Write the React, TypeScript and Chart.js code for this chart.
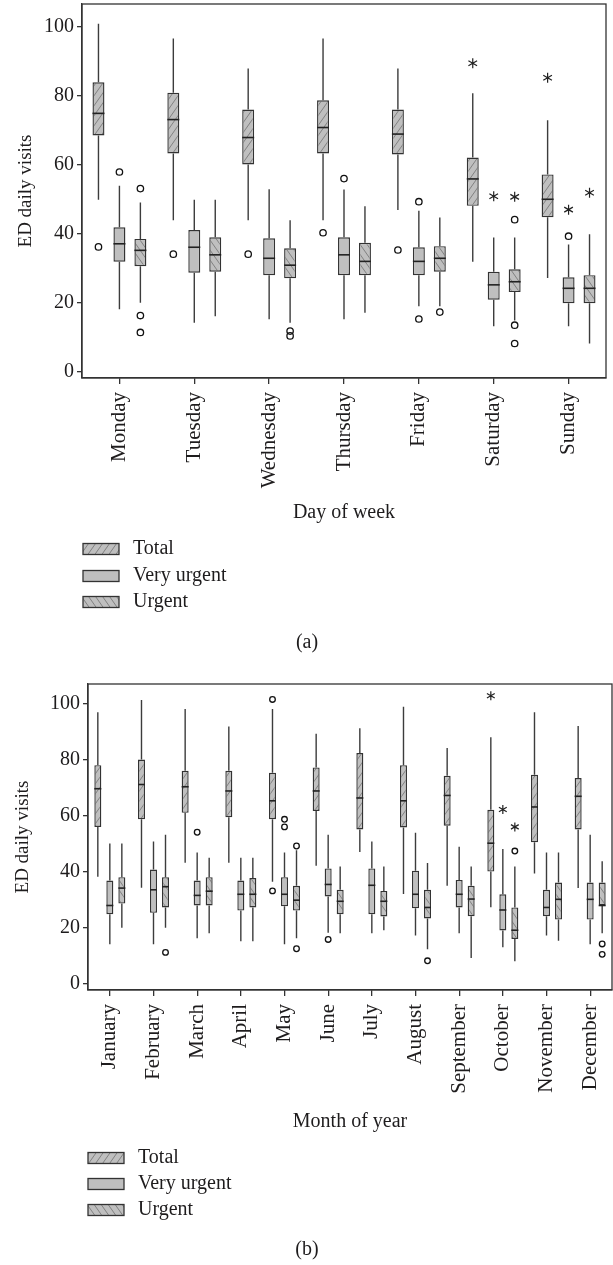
import React, { useEffect, useRef } from 'react';
import { Chart, registerables } from 'chart.js';

Chart.register(...registerables);

// ---------- data ----------
// each box: [lower whisker, Q1, median, Q3, upper whisker]
const dayLabels = ['Monday', 'Tuesday', 'Wednesday', 'Thursday', 'Friday', 'Saturday', 'Sunday'];

const dayTotal = [
  [50, 68.6, 75, 84, 101],
  [44, 63.4, 73.2, 81, 96.7],
  [44, 60.2, 68, 76.1, 88],
  [44, 63.4, 70.9, 78.8, 96.7],
  [47, 63.1, 69, 76.1, 88],
  [32, 48.2, 56, 62.2, 80.8],
  [27.3, 44.9, 50.1, 57.3, 73],
];
const dayTotalOutliers = [[36.3], [34.2], [34.2], [40.4], [35.4], [], []];
const dayTotalExtremes = [[], [], [], [], [], [89.5], [85.3]];

const dayVeryUrgent = [
  [18.2, 32, 37.2, 42, 54],
  [14.3, 28.8, 36.2, 41.2, 50],
  [15.3, 28.1, 33, 38.8, 53],
  [15.3, 28.1, 34, 39.1, 52.9],
  [19.1, 28.1, 32.1, 36.2, 46.8],
  [13.3, 21, 25.3, 29.1, 39],
  [13.3, 20, 24.3, 27.5, 37],
];
const dayVeryUrgentOutliers = [[58], [], [], [56.1], [49.4, 15.4], [], [39.4]];
const dayVeryUrgentExtremes = [[], [], [], [], [], [51], [47.1]];

const dayUrgent = [
  [20.1, 30.7, 35.3, 38.6, 49.2],
  [16.2, 29.1, 34, 39.1, 50],
  [14.3, 27.2, 31, 35.9, 44],
  [17.2, 28.1, 32.1, 37.5, 48.1],
  [19.1, 29.1, 33, 36.5, 44.8],
  [15, 23.2, 26.2, 29.8, 39],
  [8.3, 20, 24.3, 28.1, 40],
];
const dayUrgentOutliers = [[53.2, 16.4, 11.5], [], [11.9, 10.5], [], [17.4], [44.2, 13.6, 8.3], []];
const dayUrgentExtremes = [[], [], [], [], [], [50.8], [52]];

const monthLabels = [
  'January', 'February', 'March', 'April', 'May', 'June',
  'July', 'August', 'September', 'October', 'November', 'December',
];

const monthTotal = [
  [38.2, 56, 69.6, 78, 96.8],
  [34.3, 58.7, 71.1, 80, 101.2],
  [43.2, 61, 70.3, 76, 98],
  [43.2, 59.4, 68.8, 76, 91.8],
  [36.5, 58.7, 65.3, 75.3, 98],
  [42.2, 61.7, 68.8, 77.2, 89.2],
  [47.1, 55.1, 66.3, 82.3, 91.1],
  [32.1, 55.8, 65.3, 78, 98.8],
  [35, 56.4, 67.2, 74.2, 84.1],
  [27.4, 40.1, 50.2, 62.1, 87.9],
  [39.4, 50.5, 63.1, 74.6, 96.8],
  [34.2, 55.1, 66.9, 73.4, 91.9],
];
const monthTotalOutliers = [[], [], [], [], [101.4, 33.2], [], [], [], [], [], [], []];
const monthTotalExtremes = [[], [], [], [], [], [], [], [], [], [102.7], [], []];

const monthVeryUrgent = [
  [14.2, 24.9, 28, 36.9, 50.1],
  [14.2, 25.4, 33.6, 40.8, 50.8],
  [16.3, 28, 31.6, 36.9, 46.9],
  [15.3, 26.2, 32, 36.9, 45],
  [14.2, 27.7, 32, 38.1, 46.9],
  [18.3, 31.2, 35.5, 41.2, 53.2],
  [18.1, 24.9, 35.2, 41.2, 50.8],
  [17.3, 27, 32, 40.4, 53.9],
  [18.1, 27.3, 32, 37.1, 48.9],
  [13.1, 19.1, 26.4, 32, 48.1],
  [17.3, 24.2, 27.3, 33.6, 46.9],
  [14.2, 23, 30.2, 36.2, 53.2],
];
const monthVeryUrgentOutliers = [[], [], [54.1], [], [58.7, 56], [15.9], [], [], [], [], [], []];
const monthVeryUrgentExtremes = [[], [], [], [], [], [], [], [], [], [62.2], [], []];

const monthUrgent = [
  [20.1, 28.7, 34.2, 38.1, 50.1],
  [20.1, 27.3, 34.7, 38.1, 53.2],
  [18.1, 28, 33.1, 38.1, 45],
  [15.3, 27.3, 32, 37.8, 45],
  [16.3, 26.2, 29.9, 35, 47.7],
  [18.1, 24.9, 29.5, 33.6, 41.9],
  [19.2, 24.1, 29.5, 33.2, 41.9],
  [12.4, 23.4, 27.3, 33.6, 43.1],
  [9.3, 24.2, 30.3, 35, 41.9],
  [8.1, 16.1, 19.2, 27.3, 41.9],
  [15.4, 23, 30.2, 36.2, 46.9],
  [18.1, 28, 28, 36.2, 43.8],
];
const monthUrgentOutliers = [[], [11.3], [], [], [49.2, 12.6], [], [], [8.3], [], [47.4], [], [14.3, 10.6]];
const monthUrgentExtremes = [[], [], [], [], [], [], [], [], [], [56], [], []];

const seriesNames = ['Total', 'Very urgent', 'Urgent'];
const hatchDirs = [1, 0, -1];
const yTicks = [0, 20, 40, 60, 80, 100];

// ---------- drawing helpers ----------
const INK = '#1e1c1d';
const LINE = '#333333';

function makeHatch(dir: number): CanvasPattern | string {
  const fill = '#bfbfbf';
  if (dir === 0) return fill;
  const w = 7;
  const h = 10;
  const c = document.createElement('canvas');
  c.width = w;
  c.height = h;
  const g = c.getContext('2d')!;
  g.fillStyle = fill;
  g.fillRect(0, 0, w, h);
  g.strokeStyle = '#7a7a7a';
  g.lineWidth = 0.9;
  g.beginPath();
  for (const o of [-w, 0, w]) {
    if (dir > 0) {
      g.moveTo(o, h);
      g.lineTo(o + w, 0);
    } else {
      g.moveTo(o, 0);
      g.lineTo(o + w, h);
    }
  }
  g.stroke();
  return g.createPattern(c, 'repeat')!;
}

function drawStar(ctx: CanvasRenderingContext2D, x: number, y: number, r: number) {
  ctx.beginPath();
  for (let k = 0; k < 3; k++) {
    const a = Math.PI / 2 + (k * Math.PI) / 3;
    ctx.moveTo(x + r * Math.cos(a), y + r * Math.sin(a));
    ctx.lineTo(x - r * Math.cos(a), y - r * Math.sin(a));
  }
  ctx.stroke();
}

const boxPlugin = {
  id: 'boxExtras',
  beforeDatasetsDraw(chart: any) {
    const ctx: CanvasRenderingContext2D = chart.ctx;
    const ys = chart.scales.y;
    ctx.save();
    ctx.strokeStyle = '#3c3c3c';
    ctx.lineWidth = 1.4;
    chart.data.datasets.forEach((ds: any, di: number) => {
      const meta = chart.getDatasetMeta(di);
      ds.stats.forEach((s: number[], i: number) => {
        const el = meta.data[i];
        const x = el.x;
        ctx.beginPath();
        ctx.moveTo(x, ys.getPixelForValue(s[0]));
        ctx.lineTo(x, ys.getPixelForValue(s[1]));
        ctx.moveTo(x, ys.getPixelForValue(s[3]));
        ctx.lineTo(x, ys.getPixelForValue(s[4]));
        ctx.stroke();
      });
    });
    ctx.restore();
  },
  afterDatasetsDraw(chart: any, _args: any, opts: any) {
    const ctx: CanvasRenderingContext2D = chart.ctx;
    const ys = chart.scales.y;
    ctx.save();
    chart.data.datasets.forEach((ds: any, di: number) => {
      const meta = chart.getDatasetMeta(di);
      ds.stats.forEach((s: number[], i: number) => {
        const el = meta.data[i];
        const x = el.x;
        const w = el.width;
        // median
        ctx.strokeStyle = '#222';
        ctx.lineWidth = 1.6;
        const my = ys.getPixelForValue(s[2]);
        ctx.beginPath();
        ctx.moveTo(x - w / 2, my);
        ctx.lineTo(x + w / 2, my);
        ctx.stroke();
        // outliers
        ctx.lineWidth = 1.3;
        ctx.strokeStyle = '#111';
        (ds.outliers[i] || []).forEach((v: number) => {
          ctx.beginPath();
          ctx.arc(x, ys.getPixelForValue(v), opts.pointR, 0, Math.PI * 2);
          ctx.stroke();
        });
        // extremes
        ctx.lineWidth = 1.2;
        ctx.strokeStyle = '#222';
        (ds.extremes[i] || []).forEach((v: number) => {
          drawStar(ctx, x, ys.getPixelForValue(v), opts.starR);
        });
      });
    });
    ctx.restore();
  },
  afterDraw(chart: any, _args: any, opts: any) {
    const ctx: CanvasRenderingContext2D = chart.ctx;
    const a = chart.chartArea;
    ctx.save();
    // frame
    ctx.strokeStyle = LINE;
    ctx.lineWidth = 1.3;
    ctx.strokeRect(a.left, a.top, a.right - a.left, a.bottom - a.top);
    // legend
    ctx.font = "20px 'Liberation Serif', serif";
    ctx.textBaseline = 'middle';
    ctx.textAlign = 'left';
    chart.data.datasets.forEach((ds: any, di: number) => {
      const cy = opts.legendRows[di];
      ctx.fillStyle = ds.backgroundColor;
      ctx.fillRect(opts.legendX, cy - 5.5, 36, 11);
      ctx.strokeStyle = LINE;
      ctx.lineWidth = 1.3;
      ctx.strokeRect(opts.legendX, cy - 5.5, 36, 11);
      ctx.fillStyle = INK;
      ctx.fillText(ds.label, opts.textX, cy);
    });
    // caption
    ctx.textAlign = 'center';
    ctx.fillText(opts.caption, opts.captionX, opts.captionY);
    ctx.restore();
  },
};

interface PanelCfg {
  labels: string[];
  stats: number[][][];
  outliers: number[][][];
  extremes: number[][][];
  height: number;
  yMin: number;
  yMax: number;
  padTop: number;
  padRight: number;
  padBottom: number;
  yWidth: number;
  xHeight: number;
  yTitlePad: number;
  xTitle: string;
  catPct: number;
  barPct: number;
  legendX: number;
  textX: number;
  legendRows: number[];
  caption: string;
  captionX: number;
  captionY: number;
  pointR: number;
  starR: number;
}

function Panel({ cfg }: { cfg: PanelCfg }) {
  const ref = useRef<HTMLCanvasElement>(null);
  useEffect(() => {
    Chart.defaults.font.family = "'Liberation Serif', 'Times New Roman', serif";
    Chart.defaults.color = INK;
    const datasets: any[] = seriesNames.map((name, si) => ({
      label: name,
      data: cfg.stats[si].map((s) => [s[1], s[3]]),
      stats: cfg.stats[si],
      outliers: cfg.outliers[si],
      extremes: cfg.extremes[si],
      backgroundColor: makeHatch(hatchDirs[si]),
      borderColor: LINE,
      borderWidth: 1.4,
      borderSkipped: false,
      categoryPercentage: cfg.catPct,
      barPercentage: cfg.barPct,
    }));
    const chart = new Chart(ref.current!, {
      type: 'bar',
      data: { labels: cfg.labels, datasets },
      options: {
        responsive: false,
        animation: false,
        layout: { padding: { top: cfg.padTop, right: cfg.padRight, bottom: cfg.padBottom, left: 0 } },
        plugins: {
          legend: { display: false },
          tooltip: { enabled: false },
          boxExtras: {
            legendX: cfg.legendX,
            textX: cfg.textX,
            legendRows: cfg.legendRows,
            caption: cfg.caption,
            captionX: cfg.captionX,
            captionY: cfg.captionY,
            pointR: cfg.pointR,
            starR: cfg.starR,
          },
        } as any,
        scales: {
          x: {
            offset: true,
            grid: { offset: false, drawOnChartArea: false, drawTicks: true, tickLength: 6, color: LINE, lineWidth: 1.3 },
            border: { display: true, color: LINE, width: 1.3 },
            ticks: { autoSkip: false, minRotation: 90, maxRotation: 90, padding: 8, color: INK, font: { size: 21 } },
            title: { display: true, text: cfg.xTitle, color: INK, font: { size: 20 }, padding: { top: 0, bottom: 0 } },
            afterFit: (s: any) => {
              s.height = cfg.xHeight;
              s.paddingLeft = 0;
              s.paddingRight = 0;
            },
          },
          y: {
            min: cfg.yMin,
            max: cfg.yMax,
            afterBuildTicks: (s: any) => {
              s.ticks = yTicks.map((v) => ({ value: v }));
            },
            grid: { drawOnChartArea: false, drawTicks: true, tickLength: 5, color: LINE, lineWidth: 1.3 },
            border: { display: true, color: LINE, width: 1.3 },
            ticks: { padding: 3, color: INK, font: { size: 20 } },
            title: { display: true, text: 'ED daily visits', color: INK, font: { size: 19 }, padding: { top: cfg.yTitlePad, bottom: 0 } },
            afterFit: (s: any) => {
              s.width = cfg.yWidth;
              s.paddingTop = 0;
              s.paddingBottom = 0;
            },
          },
        } as any,
      },
      plugins: [boxPlugin as any],
    });
    return () => chart.destroy();
  }, [cfg]);
  return (
    <canvas
      ref={ref}
      width={613}
      height={cfg.height}
      style={{ display: 'block', width: 613, height: cfg.height }}
    />
  );
}

const panelA: PanelCfg = {
  labels: dayLabels,
  stats: [dayTotal, dayVeryUrgent, dayUrgent],
  outliers: [dayTotalOutliers, dayVeryUrgentOutliers, dayUrgentOutliers],
  extremes: [dayTotalExtremes, dayVeryUrgentExtremes, dayUrgentExtremes],
  height: 660,
  yMin: -1.7,
  yMax: 106.7,
  padTop: 4,
  padRight: 7,
  padBottom: 135,
  yWidth: 82,
  xHeight: 147,
  yTitlePad: 15,
  xTitle: 'Day of week',
  catPct: 0.84,
  barPct: 0.571,
  legendX: 83,
  textX: 133,
  legendRows: [549, 576, 602],
  caption: '(a)',
  captionX: 307,
  captionY: 643,
  pointR: 3.2,
  starR: 5,
};

const panelB: PanelCfg = {
  labels: monthLabels,
  stats: [monthTotal, monthVeryUrgent, monthUrgent],
  outliers: [monthTotalOutliers, monthVeryUrgentOutliers, monthUrgentOutliers],
  extremes: [monthTotalExtremes, monthVeryUrgentExtremes, monthUrgentExtremes],
  height: 605,
  yMin: -2.1,
  yMax: 106.9,
  padTop: 24,
  padRight: 1,
  padBottom: 131,
  yWidth: 88,
  xHeight: 144,
  yTitlePad: 12,
  xTitle: 'Month of year',
  catPct: 0.825,
  barPct: 0.583,
  legendX: 88,
  textX: 138,
  legendRows: [498, 524, 550],
  caption: '(b)',
  captionX: 307,
  captionY: 590,
  pointR: 2.8,
  starR: 4.5,
};

export default function App() {
  useEffect(() => {
    document.body.style.margin = '0';
  }, []);
  return (
    <div style={{ width: 613, height: 1265, background: '#fff' }}>
      <Panel cfg={panelA} />
      <Panel cfg={panelB} />
    </div>
  );
}
